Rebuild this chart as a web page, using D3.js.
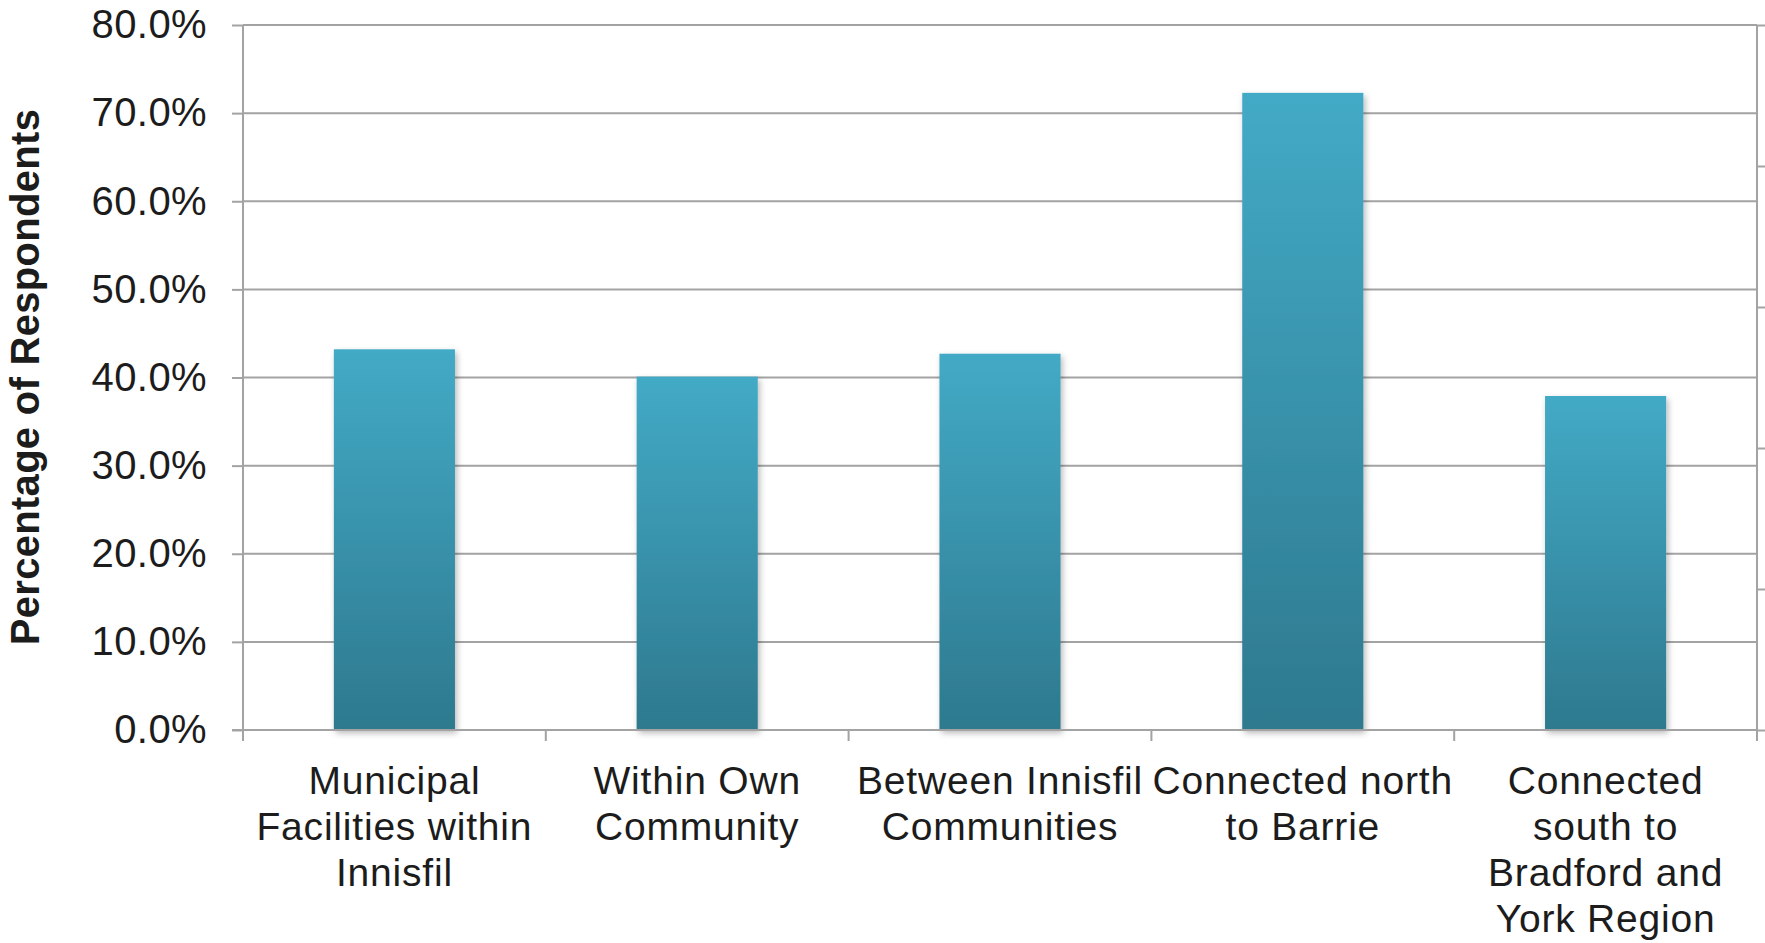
<!DOCTYPE html>
<html>
<head>
<meta charset="utf-8">
<script src="https://cdn.jsdelivr.net/npm/d3@7"></script>
<style>
  html, body { margin: 0; padding: 0; background: #ffffff; }
  svg { display: block; }
  text { font-family: "Liberation Sans", Arial, sans-serif; fill: #1c1c1c; }
</style>
</head>
<body>
<svg id="chart" width="1765" height="943"></svg>
<script>
// ---- data ----
const categories = [
  ["Municipal", "Facilities within", "Innisfil"],
  ["Within Own", "Community"],
  ["Between Innisfil", "Communities"],
  ["Connected north", "to Barrie"],
  ["Connected", "south to", "Bradford and", "York Region"]
];
const values = [0.432, 0.401, 0.427, 0.723, 0.379];
const yTicks = [0, 0.1, 0.2, 0.3, 0.4, 0.5, 0.6, 0.7, 0.8];
const yTitle = "Percentage of Respondents";

(function () {
// ---- layout ----
const pL = 243, pR = 1757, pT = 25, pB = 730;
const svg = d3.select("#chart");

const x = d3.scaleBand().domain(d3.range(categories.length)).range([pL, pR]).paddingInner(0.6).paddingOuter(0.3);
const xBand = d3.scaleBand().domain(d3.range(categories.length)).range([pL, pR]);
const y = d3.scaleLinear().domain([0, 0.8]).range([pB, pT]);
const y2 = d3.scaleLinear().domain([0, 5]).range([pB, pT]);

const defs = svg.append("defs");
const grad = defs.append("linearGradient").attr("id", "barGrad").attr("x1", 0).attr("y1", 0).attr("x2", 0).attr("y2", 1);
grad.append("stop").attr("offset", "0%").attr("stop-color", "#43aac6");
grad.append("stop").attr("offset", "100%").attr("stop-color", "#2d798e");
const filt = defs.append("filter").attr("id", "shadow").attr("x", "-20%").attr("y", "-20%").attr("width", "140%").attr("height", "140%");
filt.append("feDropShadow").attr("dx", 2).attr("dy", 3).attr("stdDeviation", 3).attr("flood-color", "#000").attr("flood-opacity", 0.28);

const gridColor = "#a3a3a3";

// gridlines
svg.append("g").selectAll("line").data(yTicks.slice(1)).join("line")
  .attr("x1", pL).attr("x2", pR)
  .attr("y1", d => y(d)).attr("y2", d => y(d))
  .attr("stroke", gridColor).attr("stroke-width", 2);

// bars
svg.append("g").selectAll("rect").data(values).join("rect")
  .attr("x", (d, i) => x(i))
  .attr("width", x.bandwidth())
  .attr("y", d => y(d))
  .attr("height", d => pB - y(d))
  .attr("fill", "url(#barGrad)")
  .attr("filter", "url(#shadow)");

// left axis
const yAxis = d3.axisLeft(y).tickValues(yTicks).tickFormat(d3.format(".1%")).tickSize(11).tickPadding(25);
const gy = svg.append("g").attr("transform", `translate(${pL},0)`).call(yAxis);
gy.select(".domain").attr("stroke", gridColor).attr("stroke-width", 2).attr("d", `M0,${pB + 11}V${pT}`);
gy.selectAll(".tick line").attr("stroke", gridColor).attr("stroke-width", 2);
gy.selectAll(".tick text").attr("font-size", 40).attr("letter-spacing", "0.4px")
  .attr("font-family", "Liberation Sans, Arial, sans-serif").attr("fill", "#1c1c1c");

// right secondary axis (labels cut off)
const yAxis2 = d3.axisRight(y2).ticks(5).tickFormat("").tickSize(9);
const gy2 = svg.append("g").attr("transform", `translate(${pR},0)`).call(yAxis2);
gy2.select(".domain").attr("stroke", gridColor).attr("stroke-width", 2).attr("d", `M0,${pT}V${pB + 11}`);
gy2.selectAll(".tick line").attr("stroke", gridColor).attr("stroke-width", 2);

// bottom axis
const xAxis = d3.axisBottom(xBand).tickSize(0).tickFormat("");
const gx = svg.append("g").attr("transform", `translate(0,${pB})`).call(xAxis);
gx.select(".domain").attr("stroke", gridColor).attr("stroke-width", 2).attr("d", `M${pL - 11},0H${pR}`);
const boundaries = d3.range(categories.length + 1).map(i => i < categories.length ? xBand(i) : pR);
gx.append("g").selectAll("line").data(boundaries).join("line")
  .attr("x1", d => d).attr("x2", d => d).attr("y1", 0).attr("y2", 11)
  .attr("stroke", gridColor).attr("stroke-width", 2);

// category labels
const lab = svg.append("g").selectAll("text").data(categories).join("text")
  .attr("x", (d, i) => xBand(i) + xBand.bandwidth() / 2)
  .attr("y", 780)
  .attr("text-anchor", "middle")
  .attr("letter-spacing", "0.8px")
  .attr("font-size", 39);
lab.selectAll("tspan").data(d => d).join("tspan")
  .attr("x", function () { return d3.select(this.parentNode).attr("x"); })
  .attr("dy", (d, i) => i === 0 ? "0.35em" : "1.18em")
  .text(d => d);

// y title
svg.append("text")
  .attr("transform", `translate(25,377) rotate(-90)`)
  .attr("text-anchor", "middle")
  .attr("dy", "0.35em")
  .attr("font-size", 40)
  .attr("letter-spacing", "0.3px")
  .attr("font-weight", "bold")
  .text(yTitle);
})();
</script>
</body>
</html>
